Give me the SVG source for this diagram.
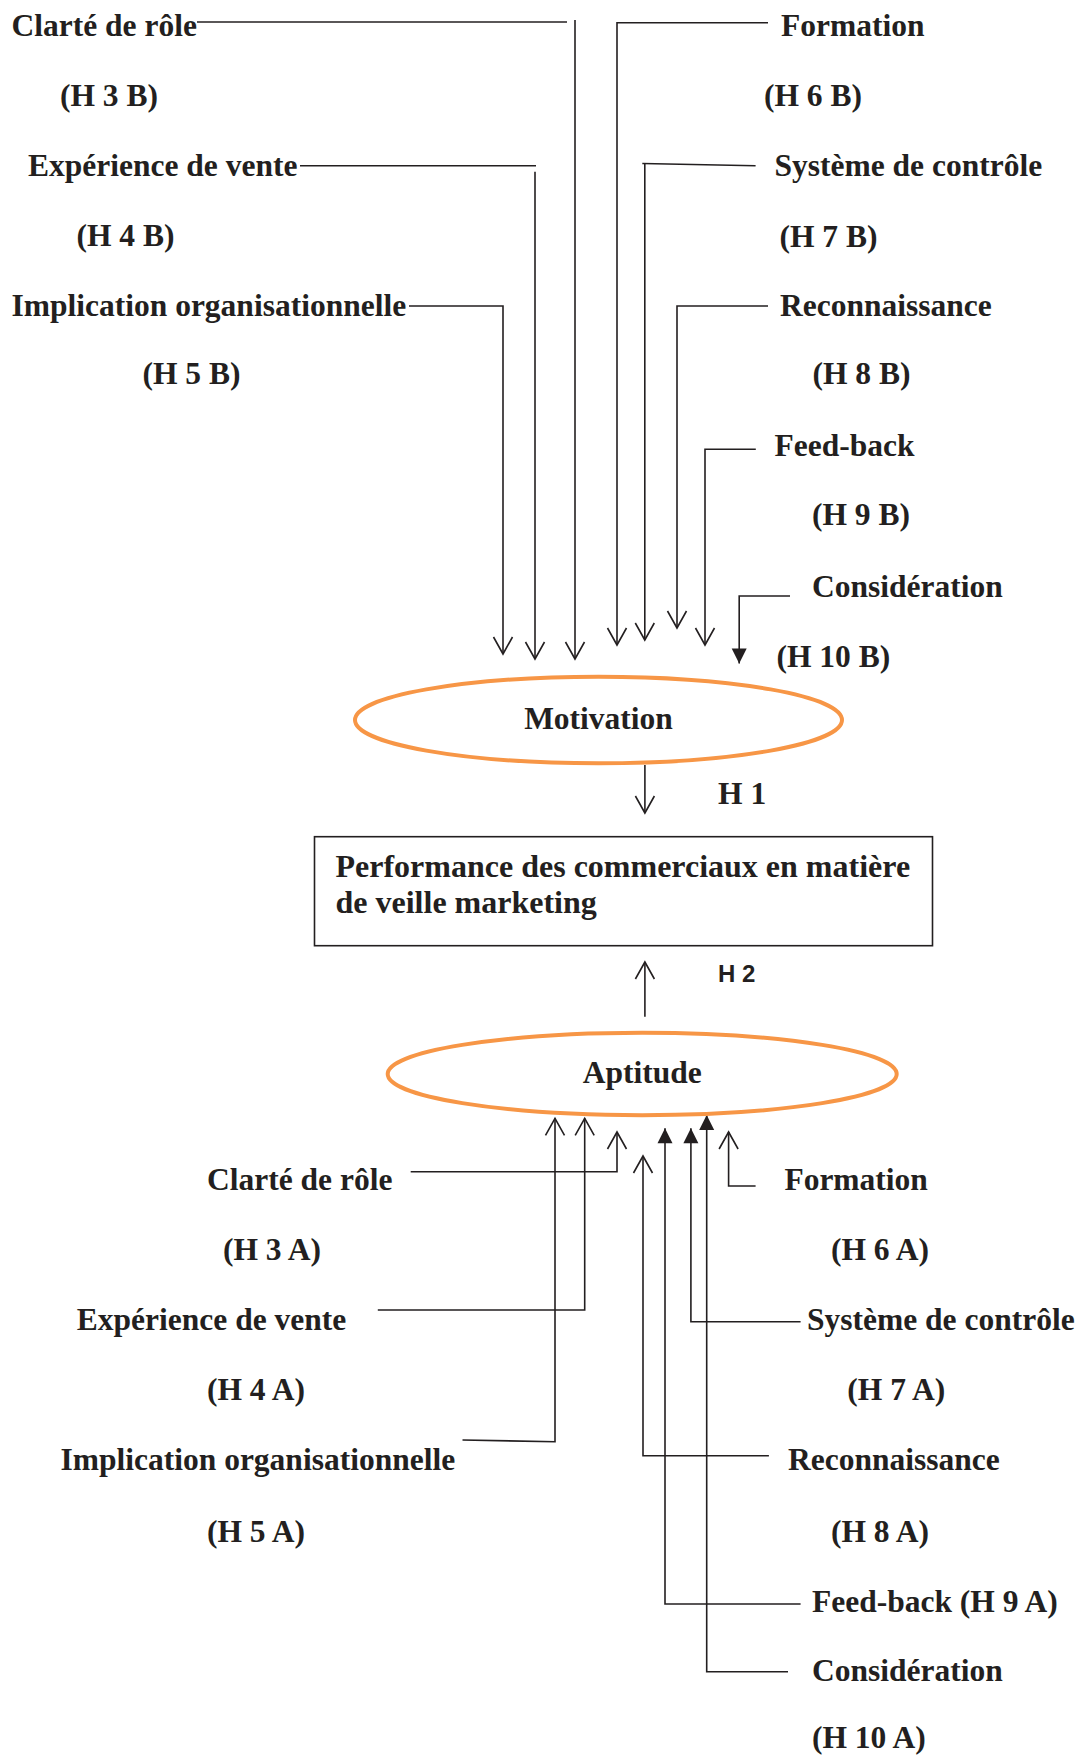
<svg xmlns="http://www.w3.org/2000/svg" width="1084" height="1758" viewBox="0 0 1084 1758">
  <style>
    .lbl { font-family: "Liberation Serif", "Times New Roman", serif; font-weight: bold; font-size: 31.5px; fill: #231F20; }
    .box-txt { font-family: "Liberation Serif", "Times New Roman", serif; font-weight: bold; font-size: 32px; fill: #231F20; }
    .hyp { font-family: "Liberation Sans", Arial, sans-serif; font-weight: bold; font-size: 24px; fill: #231F20; }
    .wire { fill: none; stroke: #231F20; stroke-width: 1.6; }
    .open { marker-end: url(#open-head); }
    .solid { marker-end: url(#solid-head); }
    .ring { fill: none; stroke: #F79646; stroke-width: 4; }
    .box { fill: #FFFFFF; stroke: #231F20; stroke-width: 1.6; }
  </style>
  <defs>
    <marker id="open-head" viewBox="-19 -11 21 22" refX="0" refY="0" markerWidth="21" markerHeight="22" markerUnits="userSpaceOnUse" orient="auto">
      <path d="M -17 -9.5 L 0 0 L -17 9.5" fill="none" stroke="#231F20" stroke-width="1.6"/>
    </marker>
    <marker id="solid-head" viewBox="-16 -9 17 18" refX="0" refY="0" markerWidth="17" markerHeight="18" markerUnits="userSpaceOnUse" orient="auto">
      <path d="M -15 -7.5 L 0 0 L -15 7.5 Z" fill="#231F20"/>
    </marker>
  </defs>

  <rect width="1084" height="1758" fill="#FFFFFF"/>

  <!-- connectors -->
  <g id="connectors">
    <!-- motivation drivers (B) -->
    <path class="wire" d="M 197 22 H 567"/>
    <path class="wire open" d="M 575 20 V 659"/>
    <path class="wire" d="M 300 165.7 H 536"/>
    <path class="wire open" d="M 535 171.7 V 659"/>
    <path class="wire open" d="M 409 306 H 503 V 654"/>
    <path class="wire open" d="M 768 22.7 H 617 V 645"/>
    <path class="wire" d="M 755.6 165.8 L 642.3 163.5"/>
    <path class="wire open" d="M 644.8 164 V 640"/>
    <path class="wire open" d="M 768 306 H 677 V 628"/>
    <path class="wire open" d="M 755.8 449.3 H 705 V 645"/>
    <path class="wire solid" d="M 790 596 H 739.2 V 663.5"/>

    <!-- H1 / H2 -->
    <path class="wire open" d="M 644.9 765 V 813"/>
    <path class="wire open" d="M 644.9 1016.7 V 962"/>

    <!-- aptitude drivers (A) -->
    <path class="wire open" d="M 410.7 1171.7 H 617 V 1132"/>
    <path class="wire open" d="M 377.8 1310 H 584.7 V 1118.3"/>
    <path class="wire open" d="M 462.5 1440 L 555 1441.7 V 1118.3"/>
    <path class="wire open" d="M 755.6 1186 H 728.6 V 1132"/>
    <path class="wire solid" d="M 800.6 1321.7 H 690.9 V 1128.3"/>
    <path class="wire open" d="M 768.9 1455.7 H 643 V 1156"/>
    <path class="wire solid" d="M 800.6 1604 H 665 V 1128.3"/>
    <path class="wire solid" d="M 788 1671.7 H 706.7 V 1115"/>
  </g>

  <!-- central constructs -->
  <g id="motivation">
    <ellipse class="ring" cx="598.5" cy="720" rx="243.5" ry="43.3"/>
    <text class="lbl" x="598.5" y="728.5" text-anchor="middle">Motivation</text>
  </g>
  <g id="performance">
    <rect class="box" x="314.5" y="836.7" width="618" height="109"/>
    <text class="box-txt" x="335.5" y="876.7">Performance des commerciaux en matière</text>
    <text class="box-txt" x="335.5" y="913.3">de veille marketing</text>
  </g>
  <g id="aptitude">
    <ellipse class="ring" cx="642.2" cy="1074" rx="254.5" ry="41.2"/>
    <text class="lbl" x="642.2" y="1083.3" text-anchor="middle">Aptitude</text>
  </g>
  <g id="h1-label"><text class="lbl" x="718" y="804">H 1</text></g>
  <g id="h2-label"><text class="hyp" x="718" y="981.7">H 2</text></g>

  <!-- motivation drivers -->
  <g id="clarte-b">
    <text class="lbl" x="11.5" y="36">Clarté de rôle</text>
    <text class="lbl" x="60" y="106">(H 3 B)</text>
  </g>
  <g id="experience-b">
    <text class="lbl" x="28" y="176">Expérience de vente</text>
    <text class="lbl" x="76.5" y="245.5">(H 4 B)</text>
  </g>
  <g id="implication-b">
    <text class="lbl" x="11.5" y="315.5">Implication organisationnelle</text>
    <text class="lbl" x="142.5" y="383.5">(H 5 B)</text>
  </g>
  <g id="formation-b">
    <text class="lbl" x="781" y="36">Formation</text>
    <text class="lbl" x="764" y="106">(H 6 B)</text>
  </g>
  <g id="controle-b">
    <text class="lbl" x="774.5" y="176">Système de contrôle</text>
    <text class="lbl" x="779.5" y="246.5">(H 7 B)</text>
  </g>
  <g id="reconnaissance-b">
    <text class="lbl" x="780" y="315.5">Reconnaissance</text>
    <text class="lbl" x="812.5" y="383.5">(H 8 B)</text>
  </g>
  <g id="feedback-b">
    <text class="lbl" x="774.5" y="456">Feed-back</text>
    <text class="lbl" x="812" y="525">(H 9 B)</text>
  </g>
  <g id="consideration-b">
    <text class="lbl" x="812" y="596.7">Considération</text>
    <text class="lbl" x="776.5" y="666.7">(H 10 B)</text>
  </g>

  <!-- aptitude drivers -->
  <g id="clarte-a">
    <text class="lbl" x="207" y="1190">Clarté de rôle</text>
    <text class="lbl" x="223" y="1260">(H 3 A)</text>
  </g>
  <g id="experience-a">
    <text class="lbl" x="76.8" y="1330">Expérience de vente</text>
    <text class="lbl" x="207" y="1400">(H 4 A)</text>
  </g>
  <g id="implication-a">
    <text class="lbl" x="60.5" y="1470">Implication organisationnelle</text>
    <text class="lbl" x="207" y="1541.7">(H 5 A)</text>
  </g>
  <g id="formation-a">
    <text class="lbl" x="784.4" y="1190">Formation</text>
    <text class="lbl" x="831" y="1260">(H 6 A)</text>
  </g>
  <g id="controle-a">
    <text class="lbl" x="807" y="1330">Système de contrôle</text>
    <text class="lbl" x="847.3" y="1400">(H 7 A)</text>
  </g>
  <g id="reconnaissance-a">
    <text class="lbl" x="788" y="1470">Reconnaissance</text>
    <text class="lbl" x="831" y="1541.7">(H 8 A)</text>
  </g>
  <g id="feedback-a">
    <text class="lbl" x="812" y="1611.7">Feed-back (H 9 A)</text>
  </g>
  <g id="consideration-a">
    <text class="lbl" x="812" y="1680.7">Considération</text>
    <text class="lbl" x="812" y="1748.3">(H 10 A)</text>
  </g>
</svg>
